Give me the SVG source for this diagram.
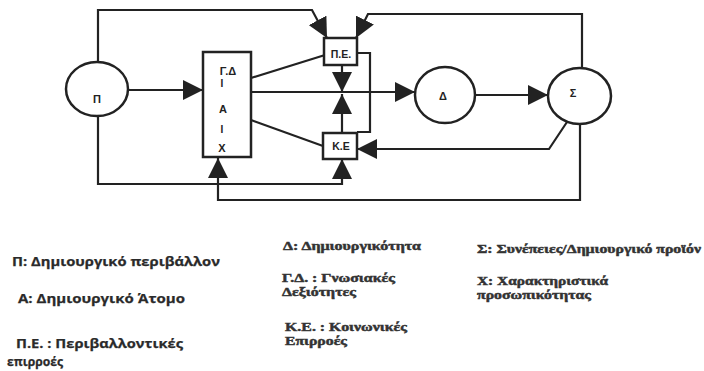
<svg xmlns="http://www.w3.org/2000/svg" width="704" height="371" viewBox="0 0 704 371">
  <defs>
    <marker id="arrow" viewBox="0 0 20 20" refX="20" refY="10" markerWidth="20" markerHeight="20" markerUnits="userSpaceOnUse" orient="auto">
      <path d="M0,0 L20,10 L0,20 Z" fill="#222"/>
    </marker>
  </defs>
  <style>
    .shape { fill: #fff; stroke: #222; stroke-width: 2.5; }
    .line { fill: none; stroke: #222; stroke-width: 2.2; stroke-linejoin: miter; }
    .arr { marker-end: url(#arrow); }
    .lbl { font-family: "Liberation Sans", Arial, sans-serif; font-weight: bold; fill: #222; text-anchor: middle; }
    .lgs { font-family: "Open Sans", "Liberation Sans", sans-serif; font-weight: bold; font-size: 13px; fill: #2a2a2a; stroke: #2a2a2a; stroke-width: 0.25; }
    .lgr { font-family: "Liberation Serif", "Times New Roman", serif; font-weight: bold; font-size: 12px; fill: #333; stroke: #333; stroke-width: 0.45; }
  </style>

  <!-- connectors -->
  <g id="connectors">
    <path class="line arr" d="M98,62 V10 H312 L327,38"/>
    <path class="line arr" d="M582,68 V14 H368 L356,38"/>
    <path class="line arr" d="M128,90 H203"/>
    <path class="line arr" d="M251,92 H415"/>
    <path class="line arr" d="M475,95 H548"/>
    <path class="line" d="M251,78 L325,55"/>
    <path class="line" d="M251,120 L323,146"/>
    <path class="line arr" d="M342,65 V92"/>
    <path class="line arr" d="M342,133 V94"/>
    <path class="line" d="M357,53 H370 V132 H357"/>
    <path class="line arr" d="M567,122 L549,149 H357"/>
    <path class="line arr" d="M98,117 V184 H342 V159"/>
    <path class="line arr" d="M580,124 V200 H218 V158"/>
  </g>

  <!-- Π: creative environment -->
  <g id="node-P">
    <ellipse class="shape" cx="97" cy="89" rx="31" ry="27"/>
    <text class="lbl" x="97" y="103" font-size="11">Π</text>
  </g>

  <!-- Γ.Δ / Α / Χ block -->
  <g id="node-GD">
    <rect class="shape" x="203" y="52" width="48" height="105"/>
    <text class="lbl" x="228" y="75" font-size="11">Γ.Δ</text>
    <text class="lbl" x="222" y="87" font-size="10">I</text>
    <text class="lbl" x="223" y="113" font-size="11">A</text>
    <text class="lbl" x="222" y="133" font-size="10">I</text>
    <text class="lbl" x="222" y="152" font-size="11">X</text>
  </g>

  <!-- Π.Ε. box -->
  <g id="node-PE">
    <rect class="shape" x="324" y="38" width="33" height="27"/>
    <text class="lbl" x="341" y="58" font-size="10.5">Π.Ε.</text>
  </g>

  <!-- Κ.Ε box -->
  <g id="node-KE">
    <rect class="shape" x="323" y="133" width="34" height="26"/>
    <text class="lbl" x="341" y="150" font-size="10.5">Κ.Ε</text>
  </g>

  <!-- Δ: creativity -->
  <g id="node-D">
    <ellipse class="shape" cx="445" cy="95" rx="30" ry="28"/>
    <text class="lbl" x="443" y="100" font-size="11">Δ</text>
  </g>

  <!-- Σ: consequences / product -->
  <g id="node-S">
    <ellipse class="shape" cx="579.5" cy="96" rx="31.5" ry="28"/>
    <text class="lbl" x="573" y="97" font-size="11" font-family="Liberation Serif, serif">Σ</text>
  </g>

  <!-- legend -->
  <g id="legend">
    <text class="lgs" x="12" y="266" textLength="208" lengthAdjust="spacingAndGlyphs">Π: Δημιουργικό περιβάλλον</text>
    <text class="lgs" x="18" y="303" textLength="167" lengthAdjust="spacingAndGlyphs">Α: Δημιουργικό Άτομο</text>
    <text class="lgs" x="16" y="348" textLength="167" lengthAdjust="spacingAndGlyphs">Π.Ε. : Περιβαλλοντικές</text>
    <text class="lgs" x="7" y="366" textLength="56" lengthAdjust="spacingAndGlyphs">επιρροές</text>

    <text class="lgr" x="283" y="250" textLength="138" lengthAdjust="spacingAndGlyphs">Δ: Δημιουργικότητα</text>
    <text class="lgr" x="282" y="282" textLength="113" lengthAdjust="spacingAndGlyphs">Γ.Δ. : Γνωσιακές</text>
    <text class="lgr" x="282" y="296" textLength="74" lengthAdjust="spacingAndGlyphs">Δεξιότητες</text>
    <text class="lgr" x="285" y="331" textLength="122" lengthAdjust="spacingAndGlyphs">Κ.Ε. : Κοινωνικές</text>
    <text class="lgr" x="285" y="345" textLength="62" lengthAdjust="spacingAndGlyphs">Επιρροές</text>

    <text class="lgr" x="477" y="253" textLength="224" lengthAdjust="spacingAndGlyphs">Σ: Συνέπειες/Δημιουργικό προϊόν</text>
    <text class="lgr" x="477" y="285" textLength="131" lengthAdjust="spacingAndGlyphs">Χ: Χαρακτηριστικά</text>
    <text class="lgr" x="477" y="299" textLength="114" lengthAdjust="spacingAndGlyphs">προσωπικότητας</text>
  </g>
</svg>
